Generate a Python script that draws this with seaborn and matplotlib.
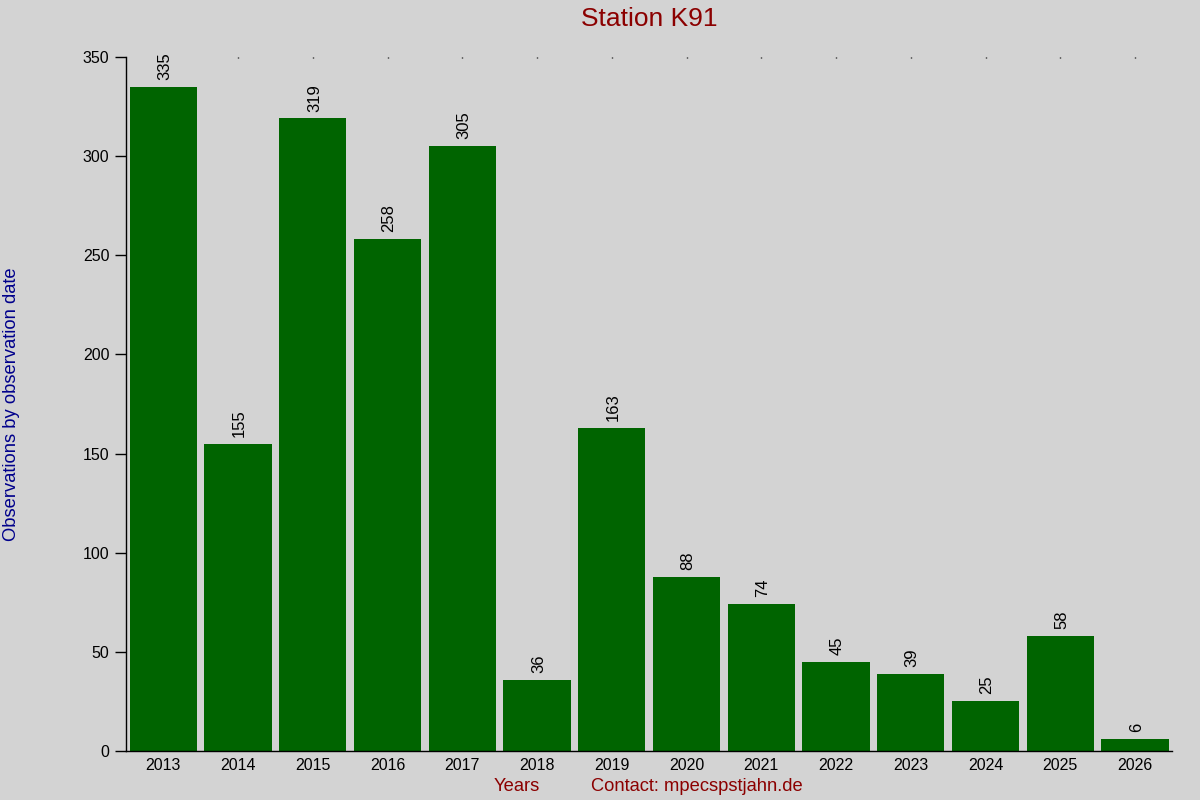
import matplotlib
matplotlib.use("Agg")
import matplotlib.pyplot as plt
import seaborn as sns
import pandas as pd

years = ["2013", "2014", "2015", "2016", "2017", "2018", "2019",
         "2020", "2021", "2022", "2023", "2024", "2025", "2026"]
counts = [335, 155, 319, 258, 305, 36, 163, 88, 74, 45, 39, 25, 58, 6]

df = pd.DataFrame({"year": years, "count": counts})

sns.set_style("white")
plt.rcParams["font.family"] = ["Liberation Sans", "DejaVu Sans"]

bg = "#d3d3d3"
fig = plt.figure(figsize=(12, 8), dpi=100, facecolor=bg)
ax = fig.add_axes([0.105, 0.06125, 0.872, 0.8675], facecolor=bg)

sns.barplot(data=df, x="year", y="count", color="#006400", width=0.9,
            saturation=1, edgecolor="none", linewidth=0, ax=ax)

for i, v in enumerate(counts):
    ax.text(i + 0.02, v + 3.5, str(v), rotation=90, ha="center", va="bottom",
            fontsize=12, color="black")

ax.set_xlim(-0.5, 13.5)
ax.set_ylim(0, 350)
ax.set_yticks([0, 50, 100, 150, 200, 250, 300, 350])

for s in ["top", "right"]:
    ax.spines[s].set_visible(False)
ax.spines["left"].set_color("black")
ax.spines["bottom"].set_color("black")
ax.spines["left"].set_linewidth(1)
ax.spines["bottom"].set_linewidth(1)

ax.tick_params(axis="y", left=True, direction="out", length=8, width=1,
               color="black", labelcolor="black", labelsize=11.5, pad=4)
ax.tick_params(axis="x", bottom=False, top=True, direction="in", length=1,
               width=1, color="black", labelcolor="black", labelsize=11.5,
               pad=5)

ax.set_xlabel("")
ax.set_ylabel("Observations by observation date", color="#00008b",
              fontsize=13.2)
ax.yaxis.set_label_coords(-0.101, 0.5)

ax.set_title("Station K91", color="#8b0000", fontsize=19, pad=22)

fig.text(0.431, 0.011, "Years", color="#8b0000", fontsize=13.2, ha="center")
fig.text(0.4925, 0.011, "Contact: mpecspstjahn.de", color="#8b0000",
         fontsize=13.2, ha="left")

plt.savefig("out.png", dpi=100, facecolor=bg)
